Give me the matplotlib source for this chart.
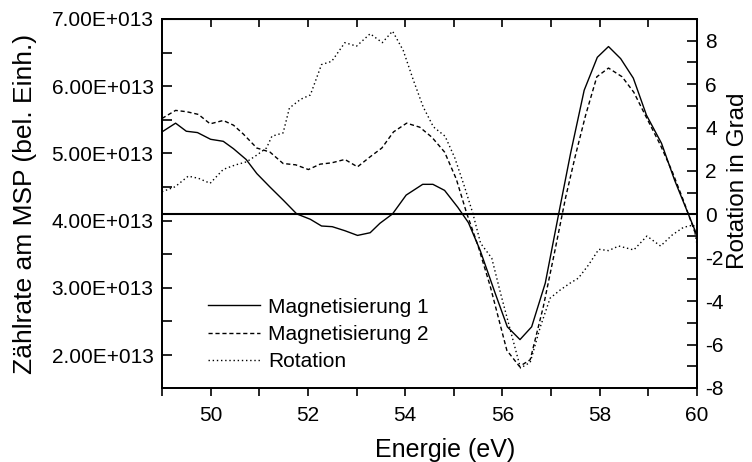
import matplotlib
matplotlib.use("Agg")
import matplotlib.pyplot as plt
from matplotlib.ticker import FixedLocator, MultipleLocator, FuncFormatter

plt.rcParams['font.family'] = ['Liberation Sans', 'DejaVu Sans']
plt.rcParams['axes.unicode_minus'] = False

# Magnetisierung 1 (left axis, units of 1e13)
energy1 = [49.0, 49.28, 49.5, 49.73, 50.0, 50.26, 50.47, 50.73, 50.95, 51.22, 51.5, 51.77,
           52.05, 52.28, 52.5, 52.76, 53.02, 53.28, 53.48, 53.74, 54.02, 54.36, 54.57, 54.81,
           55.08, 55.3, 55.54, 55.85, 56.1, 56.36, 56.6, 56.88, 57.15, 57.4, 57.68, 57.95,
           58.18, 58.43, 58.69, 58.96, 59.27, 59.54, 59.82, 60.0]
magn1 = [5.32, 5.45, 5.33, 5.31, 5.21, 5.18, 5.07, 4.91, 4.70, 4.50, 4.30, 4.10,
         4.02, 3.92, 3.91, 3.85, 3.78, 3.82, 3.96, 4.10, 4.38, 4.54, 4.54, 4.45,
         4.20, 3.97, 3.56, 2.92, 2.42, 2.23, 2.42, 3.07, 4.08, 5.0, 5.94, 6.43,
         6.59, 6.41, 6.12, 5.57, 5.15, 4.60, 4.10, 3.78]

# Magnetisierung 2 (left axis, units of 1e13)
energy2 = [49.0, 49.28, 49.51, 49.75, 49.99, 50.26, 50.47, 50.67, 50.95, 51.22, 51.49, 51.75,
           52.01, 52.25, 52.49, 52.76, 53.02, 53.28, 53.52, 53.76, 54.03, 54.3, 54.55, 54.81,
           55.05, 55.26, 55.5, 55.75, 56.09, 56.35, 56.57, 56.84, 57.08, 57.3, 57.5, 57.71,
           57.94, 58.18, 58.46, 58.70, 58.97, 59.25, 59.49, 59.72, 60.0]
magn2 = [5.52, 5.64, 5.62, 5.58, 5.44, 5.49, 5.42, 5.29, 5.08, 5.02, 4.85, 4.83,
         4.76, 4.84, 4.86, 4.91, 4.80, 4.95, 5.08, 5.32, 5.45, 5.39, 5.24, 5.02,
         4.62, 4.12, 3.62, 3.02, 2.07, 1.83, 1.93, 2.72, 3.56, 4.35, 4.97, 5.57,
         6.14, 6.27, 6.14, 5.91, 5.52, 5.12, 4.73, 4.30, 3.74]

# Rotation (right axis, Grad)
energyRot = [49.0, 49.27, 49.54, 49.75, 49.99, 50.26, 50.5, 50.74, 50.95, 51.15, 51.26, 51.49,
             51.62, 51.85, 52.05, 52.28, 52.49, 52.76, 53.0, 53.28, 53.53, 53.74, 53.96, 54.17,
             54.37, 54.58, 54.82, 55.02, 55.22, 55.39, 55.55, 55.78, 55.96, 56.16, 56.37, 56.57,
             56.78, 56.98, 57.19, 57.39, 57.56, 57.77, 57.98, 58.18, 58.39, 58.70, 58.97, 59.25,
             59.49, 59.72, 59.93, 60.0]
rotation = [1.04, 1.27, 1.76, 1.66, 1.43, 2.07, 2.27, 2.42, 2.73, 3.06, 3.6, 3.75,
            4.9, 5.3, 5.5, 6.9, 7.05, 7.91, 7.75, 8.32, 7.91, 8.44, 7.55, 6.17,
            4.95, 4.03, 3.6, 2.6, 1.27, 0.05, -1.33, -2.02, -3.63, -5.32, -7.08, -6.82,
            -5.17, -3.86, -3.48, -3.17, -2.94, -2.33, -1.61, -1.67, -1.46, -1.64, -1.0, -1.46,
            -0.95, -0.6, -0.49, -1.4]

leftTicks = [2, 3, 4, 5, 6, 7]
rightTicks = [-8, -6, -4, -2, 0, 2, 4, 6, 8]
xTicks = [50, 52, 54, 56, 58, 60]

fig = plt.figure(figsize=(7.52, 4.62), dpi=100)
ax = fig.add_axes([0.2154, 0.1602, 0.7115, 0.7987])
ax2 = ax.twinx()

l1, = ax.plot(energy1, magn1, color='black', lw=1.0, label='Magnetisierung 1')
l2, = ax.plot(energy2, magn2, color='black', lw=1.0, dashes=(3, 2), label='Magnetisierung 2')
l3, = ax2.plot(energyRot, rotation, color='black', lw=1.0, dashes=(1, 2), label='Rotation')
ax2.axhline(0, color='black', lw=1.5)

ax.set_xlim(49, 60)
ax.set_ylim(1.51, 7.0)
ax2.set_ylim(-8, 9)

ax.xaxis.set_major_locator(FixedLocator(xTicks))
ax.xaxis.set_minor_locator(MultipleLocator(1))
ax.yaxis.set_major_locator(FixedLocator(leftTicks))
ax.yaxis.set_minor_locator(MultipleLocator(0.5))
ax.yaxis.set_major_formatter(FuncFormatter(lambda v, p: '%.2fE+013' % v))
ax2.yaxis.set_major_locator(FixedLocator(rightTicks))
ax2.yaxis.set_minor_locator(MultipleLocator(1))

ax.tick_params(axis='x', which='both', direction='out', length=6, width=1.2, labelsize=15, pad=7, top=False)
ax.tick_params(axis='y', which='both', direction='in', length=7, width=1.2, labelsize=15, pad=6)
ax2.tick_params(axis='y', which='both', direction='in', length=7, width=1.2, labelsize=15, pad=6)

# inward ticks on top spine at every integer
secx = ax.secondary_xaxis('top')
secx.xaxis.set_major_locator(MultipleLocator(1))
secx.tick_params(direction='in', length=6, width=1.2, labeltop=False)

for a in (ax, ax2):
    for s in a.spines.values():
        s.set_linewidth(1.3)

ax.set_xlabel('Energie (eV)', fontsize=18)
ax.xaxis.set_label_coords(0.53, -0.135)
ax.set_ylabel('Zählrate am MSP (bel. Einh.)', fontsize=19)
ax.yaxis.set_label_coords(-0.234, 0.5)
ax2.set_ylabel('Rotation in Grad', fontsize=17.5)
ax2.yaxis.set_label_coords(1.056, 0.561)

ax.legend(handles=[l1, l2, l3], loc='lower left', bbox_to_anchor=(0.086, 0.045), frameon=False,
          fontsize=15, handlelength=2.5, handletextpad=0.4, labelspacing=0.4,
          borderpad=0, borderaxespad=0)

fig.savefig('out.png', dpi=100)
